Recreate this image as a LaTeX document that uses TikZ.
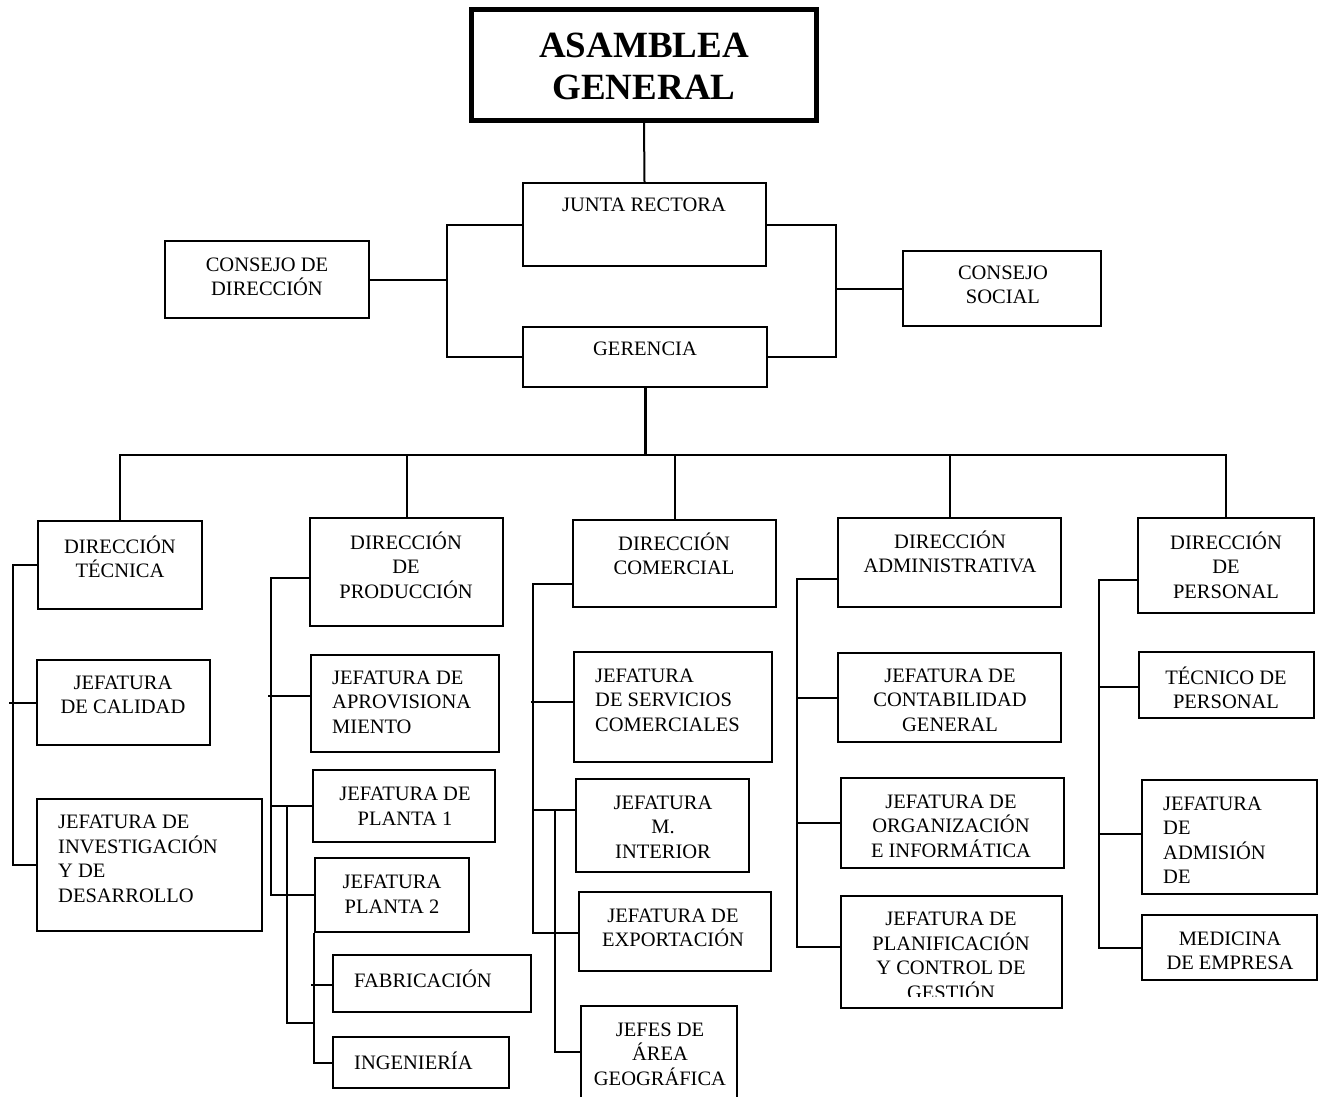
\documentclass[tikz,border=0pt]{standalone}
\usepackage{fontspec}
\setmainfont{Liberation Serif}
\usetikzlibrary{fit,calc}
\newcommand\fsn{\fontsize{20.5}{24.5}\selectfont}
\newcommand\fsb{\fontsize{37}{42}\selectfont\bfseries}
\tikzset{
  orgbox/.style={draw, line width=2pt, inner sep=0pt, rectangle},
  txt/.style={font=\fsn, align=center, inner sep=0pt},
  txtl/.style={font=\fsn, align=left, inner sep=0pt, anchor=west},
  ln/.style={line width=2pt},
}
\newcommand\bx[5]{\node[orgbox, fit={(#2,#3)(#4,#5)}] (#1) {};}
\begin{document}
\begin{tikzpicture}[x=1pt,y=-1pt]
\useasboundingbox (0,0) rectangle (1325,1097);
% top
\node[draw, line width=5pt, inner sep=0pt, fit={(471.5,9.5)(816.5,120.5)}] (ag) {};
\node[font=\fsb, align=center, inner sep=0pt] at (644,66) {ASAMBLEA\\GENERAL};
\bx{jr}{523}{183}{766}{266}
\node[txt] at (644,205) {JUNTA RECTORA};
\bx{cd}{165}{241}{369}{318}
\node[txt] at (267,277) {CONSEJO DE\\DIRECCIÓN};
\bx{cs}{903}{251}{1101}{326}
\node[txt] at (1003,285) {CONSEJO\\SOCIAL};
\bx{ger}{523}{327}{767}{387}
\node[txt] at (645,349) {GERENCIA};
\draw[ln] (ag.south) -- (jr.north);
\coordinate (lb) at (447,280);
\coordinate (rb) at (836,288.5);
\draw[ln] (jr.west) -| (lb) |- (ger.west);
\draw[ln] (cd.east) -- (cd.east -| lb);
\draw[ln] (jr.east) -| (rb) |- (ger.east);
\draw[ln] (cs.west) -- (cs.west -| rb);
% directions
\bx{dt}{38}{521}{202}{609}
\node[txt] at (120,557) {DIRECCIÓN\\TÉCNICA};
\bx{dp}{310}{518}{503}{626}
\node[txt] at (406,565) {DIRECCIÓN\\DE\\PRODUCCIÓN};
\bx{dc}{573}{520}{776}{607}
\node[txt] at (674,554) {DIRECCIÓN\\COMERCIAL};
\bx{da}{838}{518}{1061}{607}
\node[txt] at (950,552) {DIRECCIÓN\\ADMINISTRATIVA};
\bx{dpe}{1138}{518}{1314}{613}
\node[txt] at (1226,565) {DIRECCIÓN\\DE\\PERSONAL};
\coordinate (bus) at (645,455);
\draw[line width=3pt] (ger.south) -- (bus);
\draw[ln] (dt.north) |- (dpe.north |- bus) -- (dpe.north);
\draw[ln] (dp.north) -- (dp.north |- bus);
\draw[ln] (dc.north) -- (dc.north |- bus);
\draw[ln] (da.north) -- (da.north |- bus);
% column 1
\bx{cal}{37}{660}{210}{745}
\node[txt] at (123,695) {JEFATURA\\DE CALIDAD};
\bx{inv}{37}{799}{262}{931}
\node[txtl] at (58,859) {JEFATURA DE\\INVESTIGACIÓN\\Y DE\\DESARROLLO};
\coordinate (v1) at (13,0);
\draw[ln] (dt.west) -- (dt.west -| v1) -- (inv.west -| v1) -- (inv.west);
\draw[ln] (cal.west) -- ($(cal.west -| v1)+(-4,0)$);
% column 2
\bx{apr}{311}{655}{499}{752}
\node[txtl] at (332,702) {JEFATURA DE\\APROVISIONA\\MIENTO};
\bx{p1}{313}{770}{495}{842}
\node[txt] at (405,806) {JEFATURA DE\\PLANTA 1};
\bx{p2}{315}{858}{469}{932}
\node[txt] at (392,894) {JEFATURA\\PLANTA 2};
\bx{fab}{333}{955}{531}{1012}
\node[txtl] at (354,979) {FABRICACIÓN};
\bx{ing}{333}{1037}{509}{1088}
\node[txtl] at (354,1061) {INGENIERÍA};
\coordinate (v2) at (271,0);
\coordinate (v2b) at (287,0);
\coordinate (k2) at (287,1023);
\draw[ln] (dp.west |- 0,578) -- (v2 |- 0,578) -- (v2 |- p2.west) -- (p2.west);
\draw[ln] (apr.west |- 0,696) -- ($(v2 |- 0,696)+(-3,0)$);
\draw[ln] (p1.west) -- (v2 |- p1.west);
\draw[ln] (v2b |- p1.west) -- (k2) -- (k2 -| p2.west);
\draw[ln] (p2.south west) -- (p2.south west |- ing.west) -- (ing.west);
\draw[ln] (fab.west |- 0,985) -- ($(p2.west |- 0,985)+(-3,0)$);
% column 3
\bx{srv}{574}{652}{772}{762}
\node[txtl] at (595,700) {JEFATURA\\DE SERVICIOS\\COMERCIALES};
\bx{mi}{576}{779}{749}{872}
\node[txt] at (663,827) {JEFATURA\\M.\\INTERIOR};
\bx{exp}{579}{892}{771}{971}
\node[txt] at (673,928) {JEFATURA DE\\EXPORTACIÓN};
\bx{jef}{581}{1006}{737}{1110}
\node[txt] at (660,1054) {JEFES DE\\ÁREA\\GEOGRÁFICA};
\coordinate (v3) at (533,0);
\coordinate (v3b) at (555,0);
\draw[ln] (dc.west |- 0,584) -- (v3 |- 0,584) -- (v3 |- 0,933) -- (exp.west |- 0,933);
\draw[ln] (srv.west |- 0,702) -- ($(v3 |- 0,702)+(-2,0)$);
\draw[ln] (mi.west |- 0,810) -- (v3 |- 0,810);
\draw[ln] (v3b |- 0,810) -- (v3b |- 0,1052) -- (jef.west |- 0,1052);
% column 4
\bx{con}{838}{653}{1061}{742}
\node[txt] at (950,700) {JEFATURA DE\\CONTABILIDAD\\GENERAL};
\bx{org}{841}{778}{1064}{868}
\node[txt] at (951,826) {JEFATURA DE\\ORGANIZACIÓN\\E INFORMÁTICA};
\bx{pla}{841}{896}{1062}{1008}
\begin{scope}
\clip (pla.north west) rectangle (pla.east |- 0,996);
\node[txt, anchor=north] at (951,912) {JEFATURA DE\\PLANIFICACIÓN\\Y CONTROL DE\\GESTIÓN};
\end{scope}
\coordinate (v4) at (797,0);
\draw[ln] (da.west |- 0,579) -- (v4 |- 0,579) -- (v4 |- 0,947) -- (pla.west |- 0,947);
\draw[ln] (con.west) -- (v4 |- con.west);
\draw[ln] (org.west) -- (v4 |- org.west);
% column 5
\bx{tec}{1139}{652}{1314}{718}
\node[txt] at (1226,688) {TÉCNICO DE\\PERSONAL};
\bx{adm}{1142}{780}{1317}{894}
\node[txtl] at (1163,840) {JEFATURA\\DE\\ADMISIÓN\\DE};
\bx{med}{1142}{915}{1317}{980}
\node[txt] at (1230,951) {MEDICINA\\DE EMPRESA};
\coordinate (v5) at (1099,0);
\draw[ln] (dpe.west |- 0,580) -- (v5 |- 0,580) -- (v5 |- med.west) -- (med.west);
\draw[ln] (tec.west |- 0,687) -- (v5 |- 0,687);
\draw[ln] (adm.west |- 0,834) -- (v5 |- 0,834);
\end{tikzpicture}
\end{document}
